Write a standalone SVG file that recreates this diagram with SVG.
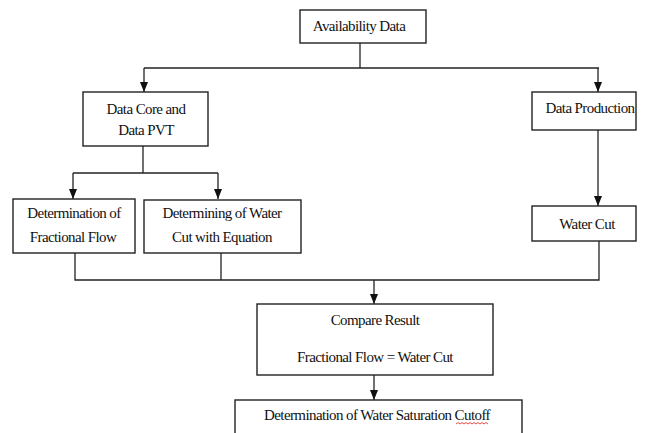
<svg xmlns="http://www.w3.org/2000/svg" width="660" height="433" viewBox="0 0 660 433">
<style>
.box{fill:#fff;stroke:#222;stroke-width:1.4}
.t{font-family:"Liberation Serif","Times New Roman",serif;font-size:15px;fill:#111;text-anchor:middle;letter-spacing:-0.6px}
.ln{fill:none;stroke:#222;stroke-width:1.3}
</style>
<defs>
<marker id="ah" markerWidth="10" markerHeight="8" refX="10" refY="4" orient="auto" markerUnits="userSpaceOnUse" viewBox="0 0 10 8">
<path d="M0,0 L10,4 L0,8 Z" fill="#111"/>
</marker>
</defs>
<rect width="660" height="433" fill="#fff"/>
<g id="connectors">
<path class="ln" d="M360,43 V68"/>
<path class="ln" d="M144,68 H599"/>
<path class="ln" d="M144,68 V92" marker-end="url(#ah)"/>
<path class="ln" d="M598,68 V92" marker-end="url(#ah)"/>
<path class="ln" d="M143,146 V173"/>
<path class="ln" d="M73,173 H218"/>
<path class="ln" d="M73,173 V199" marker-end="url(#ah)"/>
<path class="ln" d="M218,173 V199" marker-end="url(#ah)"/>
<path class="ln" d="M598,130 V206" marker-end="url(#ah)"/>
<path class="ln" d="M75,253 V280 H599 V241"/>
<path class="ln" d="M221,253 V280"/>
<path class="ln" d="M374,280 V304" marker-end="url(#ah)"/>
<path class="ln" d="M374,375 V400" marker-end="url(#ah)"/>
</g>
<g id="availability">
<rect class="box" x="300" y="10" width="126" height="33"/>
<text class="t" x="359" y="31">Availability Data</text>
</g>
<g id="datacore">
<rect class="box" x="83" y="92" width="125" height="54"/>
<text class="t" x="146" y="114">Data Core and</text>
<text class="t" x="146" y="135">Data PVT</text>
</g>
<g id="dataproduction">
<rect class="box" x="532" y="92" width="104" height="38"/>
<text class="t" x="590" y="113">Data Production</text>
</g>
<g id="fractionalflow">
<rect class="box" x="13" y="199" width="122" height="54"/>
<text class="t" x="74" y="218">Determination of</text>
<text class="t" x="73" y="242">Fractional Flow</text>
</g>
<g id="watercuteq">
<rect class="box" x="144" y="200" width="157" height="53"/>
<text class="t" x="222" y="218">Determining of Water</text>
<text class="t" x="222" y="242">Cut with Equation</text>
</g>
<g id="watercut">
<rect class="box" x="532" y="206" width="104" height="35"/>
<text class="t" x="587" y="229">Water Cut</text>
</g>
<g id="compare">
<rect class="box" x="257" y="304" width="236" height="71"/>
<text class="t" x="375" y="325">Compare Result</text>
<text class="t" x="375" y="362">Fractional Flow = Water Cut</text>
</g>
<g id="cutoff">
<rect class="box" x="235" y="400" width="287" height="45"/>
<text class="t" x="377" y="420">Determination of Water Saturation Cutoff</text>
<path d="M456,424 l2,-1.5 l2,1.5 l2,-1.5 l2,1.5 l2,-1.5 l2,1.5 l2,-1.5 l2,1.5 l2,-1.5 l2,1.5 l2,-1.5 l2,1.5 l2,-1.5 l2,1.5 l2,-1.5 l2,1.5" fill="none" stroke="#e02020" stroke-width="0.8"/>
</g>
</svg>
